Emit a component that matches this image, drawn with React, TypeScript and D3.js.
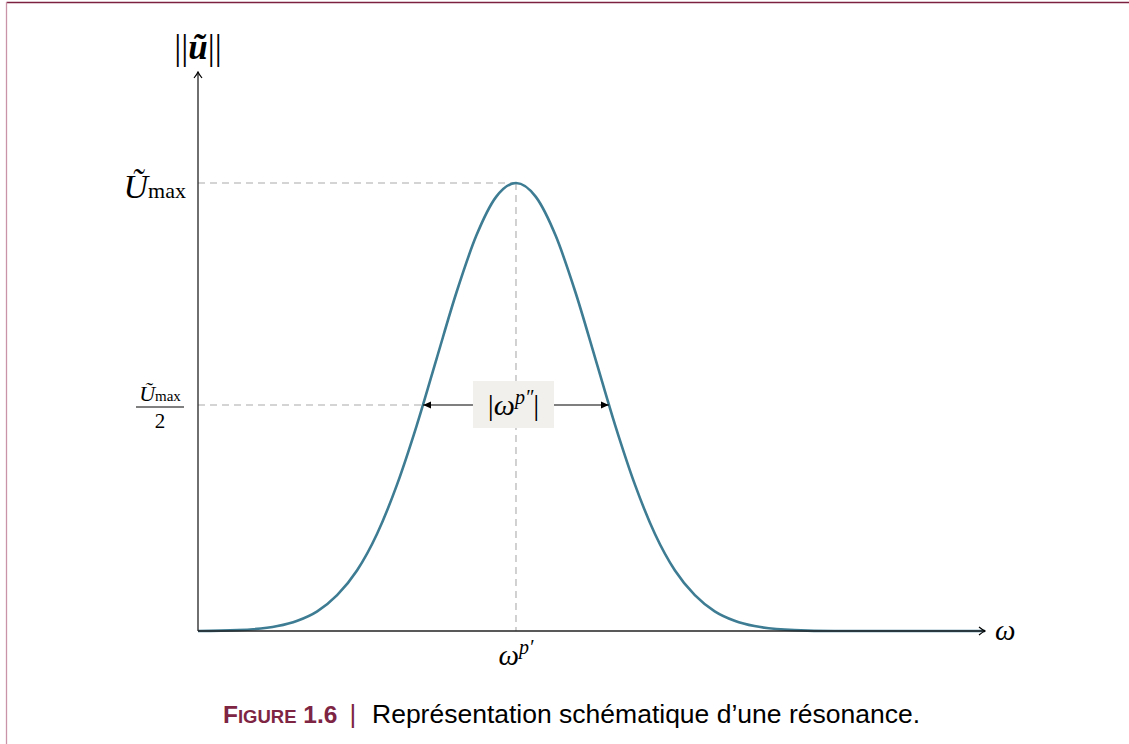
import React from 'react';
import * as d3 from 'd3';

// readings of the resonance curve (omega in arbitrary units, U normalised to U_max)
const omega = [0, 0.5, 1, 1.25, 1.5, 1.75, 2, 2.25, 2.5, 2.75, 3, 3.25, 3.5, 3.75, 4, 4.25, 4.5, 4.75, 5, 5.25, 5.5, 5.75, 6, 6.25, 6.5, 6.75, 7, 7.5, 8, 9, 9.9];
const amplitude = [0, 0.002, 0.011, 0.023, 0.044, 0.08, 0.135, 0.216, 0.325, 0.458, 0.607, 0.755, 0.882, 0.969, 1, 0.969, 0.882, 0.755, 0.607, 0.458, 0.325, 0.216, 0.135, 0.08, 0.044, 0.023, 0.011, 0.002, 0, 0, 0];
const omegaPeak = 4;
const halfWidth = [2.82, 5.18]; // where the curve crosses U_max / 2
const uMax = 1;

const W = 1129;
const H = 744;
const serif = "'Liberation Serif', 'DejaVu Serif', serif";
const sans = "'Liberation Sans', Arial, sans-serif";

const App = () => {
    const x = d3.scaleLinear().domain([0, 9.9]).range([198, 985]);
    const y = d3.scaleLinear().domain([0, 1]).range([631, 183]);

    const pts: [number, number][] = omega.map((w, i) => [w, amplitude[i]]);
    const line = d3.line<[number, number]>()
        .x(d => x(d[0]))
        .y(d => y(d[1]))
        .curve(d3.curveMonotoneX);

    const xp = x(omegaPeak);
    const yMax = y(uMax);
    const yHalf = y(uMax / 2) - 2;
    const xl = x(halfWidth[0]);
    const xr = x(halfWidth[1]);
    const boxL = xp - 43, boxR = xp + 38;

    return (
        <svg width={W} height={H} style={{ position: 'absolute', left: 0, top: 0, background: '#fff' }}>
            <defs>
                <marker id="axisArrow" viewBox="-6 -5 8 10" markerWidth="8" markerHeight="10" refX="1" refY="0" orient="auto" markerUnits="userSpaceOnUse">
                    <path d="M-5,-4 Q-1,-0.8 1,0 Q-1,0.8 -5,4" fill="none" stroke="#000" strokeWidth="1.2" />
                </marker>
                <marker id="headArrow" viewBox="-8 -4 9 8" markerWidth="9" markerHeight="8" refX="0" refY="0" orient="auto" markerUnits="userSpaceOnUse">
                    <path d="M-8,-3.5 L0,0 L-8,3.5 Z" fill="#000" />
                </marker>
            </defs>

            {/* page frame */}
            <line x1={6.5} y1={2.5} x2={W} y2={2.5} stroke="#7d2140" strokeWidth={1.5} />
            <line x1={6.5} y1={2} x2={6.5} y2={H} stroke="#c994a8" strokeWidth={1.3} />

            {/* guides */}
            <g stroke="#c6c6c6" strokeWidth={1.6} strokeDasharray="7,5" fill="none">
                <line x1={x(0)} y1={yMax} x2={xp} y2={yMax} />
                <line x1={x(0)} y1={yHalf} x2={xl} y2={yHalf} />
                <line x1={xp} y1={yMax} x2={xp} y2={y(0)} />
            </g>

            {/* curve */}
            <path d={line(pts) || ''} fill="none" stroke="#3d7c93" strokeWidth={2.6} />

            {/* axes */}
            <line x1={x(0)} y1={y(0)} x2={x(9.9)} y2={y(0)} stroke="#222" strokeWidth={1.3} markerEnd="url(#axisArrow)" />
            <line x1={x(0)} y1={y(0)} x2={x(0)} y2={72} stroke="#222" strokeWidth={1.3} markerEnd="url(#axisArrow)" />

            {/* width arrows + label */}
            <line x1={boxL} y1={yHalf} x2={xl + 1} y2={yHalf} stroke="#000" strokeWidth={1.2} markerEnd="url(#headArrow)" />
            <line x1={boxR} y1={yHalf} x2={xr - 1} y2={yHalf} stroke="#000" strokeWidth={1.2} markerEnd="url(#headArrow)" />
            <rect x={boxL} y={yHalf - 24} width={boxR - boxL} height={47} fill="#f1f0ec" />
            <text x={(boxL + boxR) / 2} y={yHalf + 10} textAnchor="middle" fontFamily={serif} fontSize={30}>
                |<tspan fontStyle="italic">ω</tspan><tspan fontStyle="italic" fontSize={20} dy={-11}>p″</tspan><tspan dy={11}>|</tspan>
            </text>

            {/* y labels */}
            <text x={198} y={59} textAnchor="middle" fontFamily={serif} fontSize={35}>
                ||<tspan fontStyle="italic" fontWeight="bold">ũ</tspan>||
            </text>
            <text x={186} y={yMax + 15} textAnchor="end" fontFamily={serif} fontSize={34}>
                <tspan fontStyle="italic">Ũ</tspan><tspan fontSize={22}>max</tspan>
            </text>
            <text x={160} y={yHalf - 4} textAnchor="middle" fontFamily={serif} fontSize={22}>
                <tspan fontStyle="italic">Ũ</tspan><tspan fontSize={15}>max</tspan>
            </text>
            <line x1={136} y1={yHalf + 2} x2={184} y2={yHalf + 2} stroke="#000" strokeWidth={1} />
            <text x={160} y={yHalf + 23} textAnchor="middle" fontFamily={serif} fontSize={21}>2</text>

            {/* x labels */}
            <text x={xp} y={665} textAnchor="middle" fontFamily={serif} fontSize={29}>
                <tspan fontStyle="italic">ω</tspan><tspan fontStyle="italic" fontSize={20} dy={-11}>p′</tspan>
            </text>
            <text x={995} y={640} fontFamily={serif} fontStyle="italic" fontSize={29}>ω</text>

            {/* caption */}
            <text x={223} y={723} fontFamily={sans} fontWeight="bold" fontSize={24.5} fill="#7d2543">
                F<tspan fontSize={18.5}>IGURE</tspan> 1.6
            </text>
            <text x={353} y={723} fontFamily={sans} fontSize={26} fill="#7d2543" textAnchor="middle">|</text>
            <text x={372} y={723} fontFamily={sans} fontSize={26.5} fill="#000">
                Représentation schématique d’une résonance.
            </text>
        </svg>
    );
};

export default App;
